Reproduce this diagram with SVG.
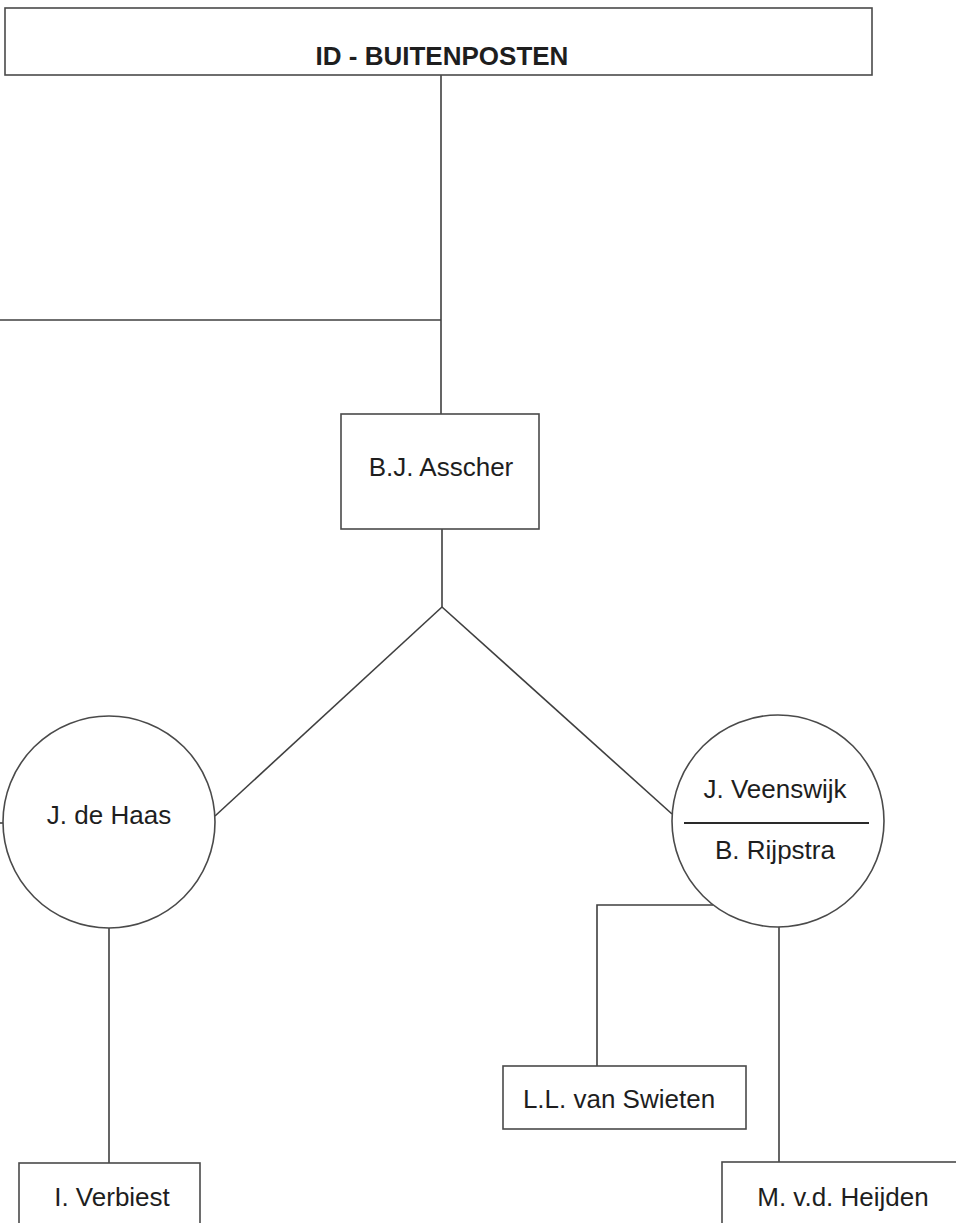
<svg xmlns="http://www.w3.org/2000/svg" width="956" height="1223" viewBox="0 0 956 1223">
<style>
.box{fill:#fff;stroke:#4a4a4a;stroke-width:1.6}
.conn line,.conn polyline{fill:none;stroke:#3f3f3f;stroke-width:1.6}
text{font-family:"Liberation Sans",Arial,sans-serif;font-size:26px;fill:#1e1e1e;text-anchor:middle}
.bold{font-weight:bold}
</style>
<rect width="956" height="1223" fill="#fff"/>
<g class="conn" id="connectors">
<line x1="441" y1="75" x2="441" y2="414"/>
<line x1="0" y1="320" x2="441" y2="320"/>
<line x1="442" y1="529" x2="442" y2="607"/>
<line x1="442" y1="607" x2="215" y2="816"/>
<line x1="442" y1="607" x2="672" y2="814"/>
<line x1="0" y1="823" x2="3" y2="823"/>
<line x1="109" y1="928" x2="109" y2="1163"/>
<polyline points="713,905 597,905 597,1066"/>
<line x1="779" y1="927" x2="779" y2="1163"/>
</g>
<g id="n-top">
<rect class="box" x="5" y="8" width="867" height="67" stroke-width="2"/>
<text class="bold" x="442" y="65">ID - BUITENPOSTEN</text>
</g>
<g id="n-asscher">
<rect class="box" x="341" y="414" width="198" height="115"/>
<text x="441" y="476">B.J. Asscher</text>
</g>
<g id="n-dehaas">
<circle class="box" cx="109" cy="822" r="106"/>
<text x="109" y="824">J. de Haas</text>
</g>
<g id="n-veenswijk">
<circle class="box" cx="778" cy="821" r="106"/>
<text x="775" y="798">J. Veenswijk</text>
<line x1="684" y1="823" x2="869" y2="823" stroke="#2a2a2a" stroke-width="2"/>
<text x="775" y="859">B. Rijpstra</text>
</g>
<g id="n-swieten">
<rect class="box" x="503" y="1066" width="243" height="63"/>
<text x="619" y="1108">L.L. van Swieten</text>
</g>
<g id="n-verbiest">
<rect class="box" x="19" y="1163" width="181" height="80"/>
<text x="112" y="1206">I. Verbiest</text>
</g>
<g id="n-heijden">
<rect class="box" x="722" y="1162" width="260" height="80"/>
<text x="843" y="1206">M. v.d. Heijden</text>
</g>
</svg>
